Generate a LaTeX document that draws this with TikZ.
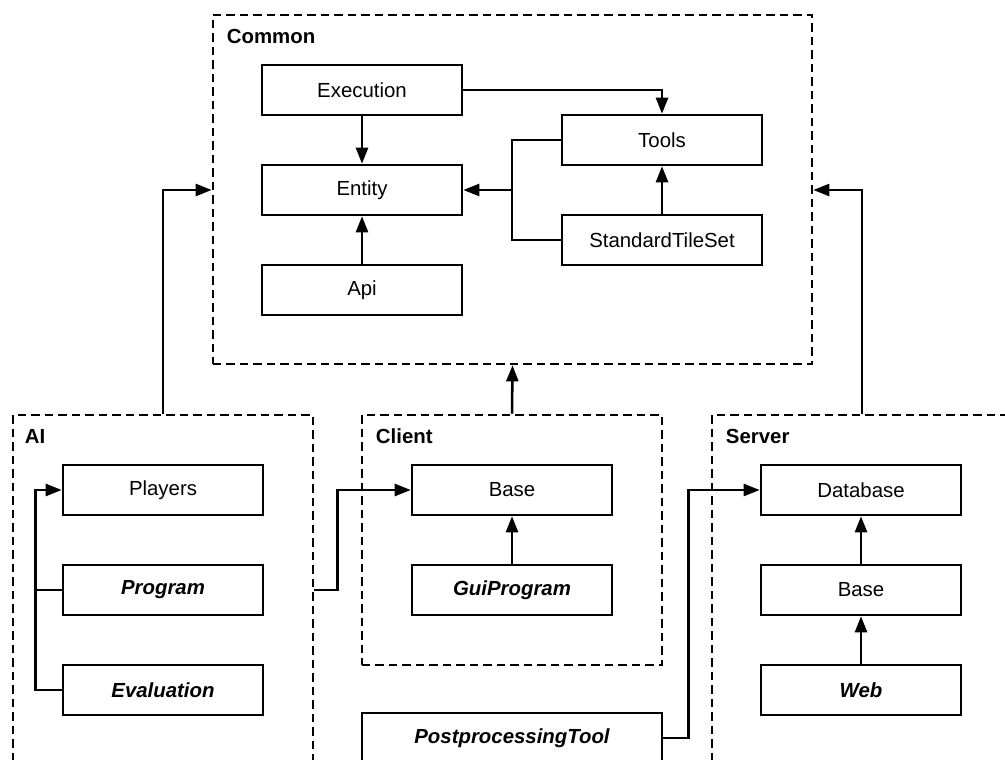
\documentclass[tikz,border=0pt]{standalone}
\usepackage{fontspec}
\setmainfont{Liberation Sans}
\usetikzlibrary{arrows.meta, positioning, calc}

\begin{document}
\begin{tikzpicture}[x=0.025cm, y=0.025cm, >={Triangle[length=4mm, width=3mm]}, line width=1.8pt,
    module/.style={draw, rectangle, minimum width=5cm, minimum height=1.25cm, inner sep=0pt, font=\fontsize{14.5}{17}\selectfont},
    abstract/.style={module, font=\fontsize{14.5}{17}\selectfont\bfseries\itshape},
    group/.style={draw, rectangle, dash pattern=on 6pt off 3.6pt, inner sep=0pt},
    grouplabel/.style={anchor=base west, inner sep=0pt, font=\fontsize{14.5}{17}\selectfont\bfseries}]

    % ================= Frame =================
    \useasboundingbox (0,0) rectangle (1005,-760);
    \clip (0,0) rectangle (1005,-760);

    % ================= Groups =================
    \node[group, minimum width=14.975cm, minimum height=8.725cm] (common) at (512.5,-189.5) {};
    \node[group, minimum width=7.5cm, minimum height=9.625cm] (ai) at (163,-607.5) {};
    \node[group, minimum width=7.5cm, minimum height=6.25cm] (client) at (512,-540) {};
    \node[group, minimum width=7.5cm, minimum height=9.625cm] (server) at (862,-607.5) {};

    \node[grouplabel] at ([shift={(14,-30)}]common.north west) {Common};
    \node[grouplabel] at ([shift={(12,-30)}]ai.north west) {AI};
    \node[grouplabel] at ([shift={(14,-30)}]client.north west) {Client};
    \node[grouplabel] at ([shift={(14,-30)}]server.north west) {Server};

    % ================= Common =================
    \node[module] (execution) at (362,-90) {Execution};
    \node[module] (entity) at (362,-190) {Entity};
    \node[module] (api) at (362,-290) {Api};
    \node[module] (tools) at (662,-140) {Tools};
    \node[module] (stdtiles) at (662,-240) {StandardTileSet};

    \draw[->] (execution) -- (entity);
    \draw[->] (api) -- (entity);
    \draw[->] (stdtiles) -- (tools);
    \draw[->] (execution.east) -| (tools.north);
    \coordinate (join) at ($(entity.east)!0.5!(tools.west |- entity.east)$);
    \draw (tools.west) -| (join) |- (stdtiles.west);
    \draw[->] (join) -- (entity.east);

    % ================= AI =================
    \node[module] (players) at (163,-490) {Players};
    \node[abstract] (program) at (163,-590) {Program};
    \node[abstract] (evaluation) at (163,-690) {Evaluation};

    \draw[->] (evaluation.west) -- ++(-26,0) |- (players.west);
    \draw (program.west) -- ++(-26,0);

    % ================= Client =================
    \node[module] (cbase) at (512,-490) {Base};
    \node[abstract] (guiprogram) at (512,-590) {GuiProgram};

    \draw[->] (guiprogram) -- (cbase);
    \draw[->] (ai.east |- program.center) -- ++(23,0) |- (cbase.west);

    % ================= Server =================
    \node[module] (database) at (861,-490) {Database};
    \node[module] (sbase) at (861,-590) {Base};
    \node[abstract] (web) at (861,-690) {Web};

    \draw[->] (web) -- (sbase);
    \draw[->] (sbase) -- (database);

    % ================= Postprocessing =================
    \node[abstract, minimum width=7.5cm] (post) at (512,-738) {PostprocessingTool};
    \draw[->] (post.east) -- ++(25,0) |- (database.west);

    % ================= Dependencies on Common =================
    \draw[->] (ai.north) |- (common.west |- entity.center);
    \draw[->] (server.north) |- (common.east |- entity.center);
    \draw[->] (client.north) -- (common.south);

\end{tikzpicture}
\end{document}
